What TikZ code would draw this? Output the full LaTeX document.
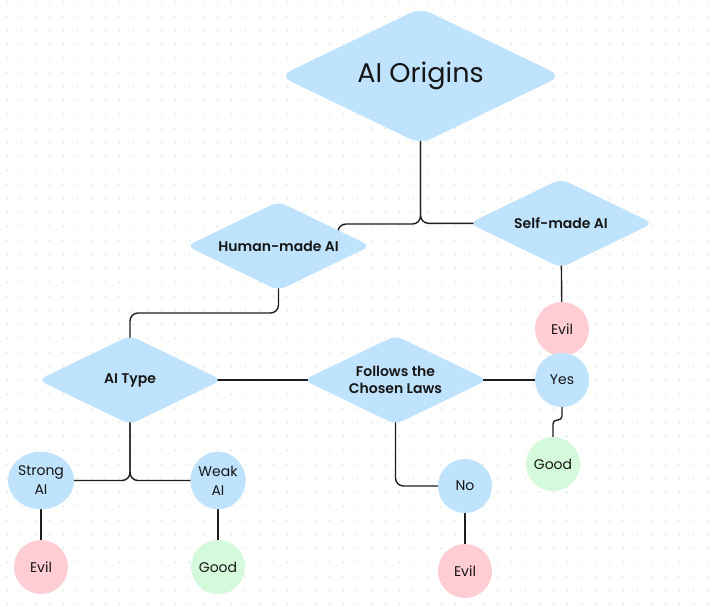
\documentclass[tikz,border=0pt]{standalone}
\usepackage{fontspec}
\setmainfont{Poppins}[BoldFont={Poppins SemiBold}]
\usetikzlibrary{shapes.geometric}
\definecolor{nodeblue}{HTML}{BFE3FD}
\definecolor{nodepink}{HTML}{FFCDD3}
\definecolor{nodegreen}{HTML}{D5F9DB}
\definecolor{linec}{HTML}{1E1E1E}
\definecolor{dotc}{HTML}{E4E4E4}
\definecolor{txt}{HTML}{161616}
\pgfdeclarelayer{gridlayer}
\pgfdeclarelayer{edgelayer}
\pgfsetlayers{gridlayer,edgelayer,main}
\begin{document}
\begin{tikzpicture}[x=1pt,y=-1pt,
  dia/.style={shape=diamond, fill=nodeblue, draw=none, inner sep=0pt,
    rounded corners=8pt, minimum width=184pt, minimum height=89pt, aspect=2.07,
    align=center, text=txt, font=\fontsize{14}{17}\selectfont\bfseries},
  bigdia/.style={dia, rounded corners=12pt, minimum width=282pt, minimum height=136pt,
    font=\fontsize{27}{30}\selectfont\mdseries},
  circ/.style={shape=circle, fill=nodeblue, draw=none, inner sep=0pt,
    minimum size=54pt, align=center, text=txt, font=\fontsize{14}{19}\selectfont},
  evilc/.style={circ, fill=nodepink},
  goodc/.style={circ, fill=nodegreen},
  conn/.style={draw=linec, line width=1.4pt, rounded corners=8pt},
  connsm/.style={conn, rounded corners=4pt}]
\useasboundingbox (0,0) rectangle (720,607);
\begin{pgfonlayer}{gridlayer}
\fill[white] (0,0) rectangle (720,607);
\foreach \i in {0,...,51}{
  \foreach \j in {0,...,43}{
    \fill[dotc] (7.3+14*\i, 2.3+14*\j) circle (1pt);
  }
}
\end{pgfonlayer}

% nodes
\node[bigdia] (orig) at (420.5,76) {AI Origins};
\node[dia] (self) at (561,223.3) {Self-made AI};
\node[dia] (hm) at (278.5,246) {Human-made AI};
\node[dia] (at) at (130,380) {AI Type};
\node[dia] (fol) at (395.5,380) {Follows the\\Chosen Laws};
\node[evilc] (evilA) at (562,329) {Evil};
\node[circ] (yes) at (562,380) {Yes};
\node[goodc] (goodA) at (553,464) {Good};
\node[circ] (no) at (465,486) {No};
\node[evilc] (evilB) at (465,571) {Evil};
\node[circ, minimum width=66pt, minimum height=57.5pt, shape=ellipse] (strong) at (41,480.5) {Strong\\AI};
\node[circ, minimum width=54.5pt, minimum height=57.5pt, shape=ellipse] (weak) at (218,480.5) {Weak\\AI};
\node[evilc] (evilC) at (41,567) {Evil};
\node[goodc] (goodB) at (218,567) {Good};

\coordinate (hmjoin) at (338,224);
\coordinate (atjoin) at (130,313);
\coordinate (ygjoin) at (553,420);

\begin{pgfonlayer}{edgelayer}
\draw[conn] (orig.center) |- (hmjoin) -- (hmjoin |- hm.center);
\draw[conn] (orig.center) |- (self.center);
\draw[conn] (hm.center) |- (atjoin) -- (at.center);
\draw[conn] (at.center) -- (fol.center);
\draw[conn] (fol.center) -- (yes.center);
\draw[conn] (self.center) -- (evilA.center);
\draw[connsm] (yes.center) |- (ygjoin) -- (goodA.center);
\draw[conn] (fol.center) |- (no.center);
\draw[conn] (no.center) -- (evilB.center);
\draw[conn] (at.center) |- (strong.center);
\draw[conn] (at.center) |- (weak.center);
\draw[conn] (strong.center) -- (evilC.center);
\draw[conn] (weak.center) -- (goodB.center);
\end{pgfonlayer}
\end{tikzpicture}
\end{document}
